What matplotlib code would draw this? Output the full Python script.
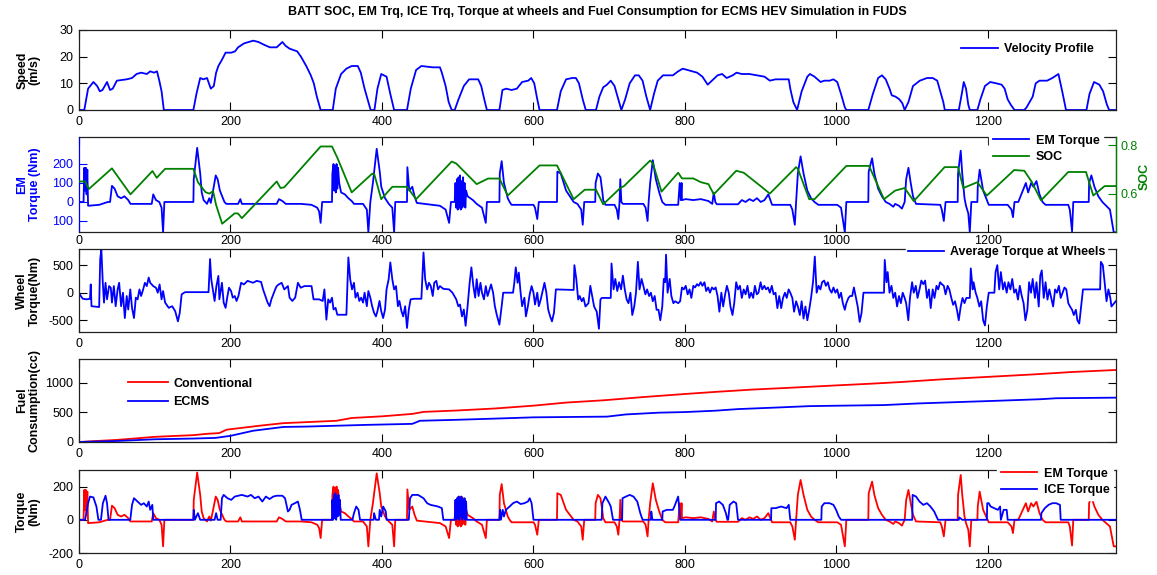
import matplotlib
matplotlib.use('Agg')
import matplotlib.pyplot as plt

plt.rcParams['font.family'] = ['Liberation Sans', 'DejaVu Sans']
plt.rcParams['font.size'] = 9
plt.rcParams['axes.unicode_minus'] = False

# ---------------- data (time s, value) ----------------
speed_pts = [(0,0),(7,0),(12,8),(19,10.5),(24,9),(27.5,7),(31,7.5),(37,10.5),(41,7.5),(44.5,8),(50,11),(63,11.5),(70,12),(76,13.5),(82,14),(89.5,13.5),(94,14.5),(99,14),(103,14.5),(106,11),(109,7),(112,0),(151,0),(155,6),(160,12),(164,11.5),(169,12),(174,8),(178,9),(181,14),(184,16.5),(189,19),(193.5,21.5),(201,21.5),(206,22),(210,23.5),(218,25),(230,26),(237,25.5),(244,24.5),(252,23.5),(261,23.5),(268.5,25.5),(273,24),(278,23),(288,22),(293,20),(300,16.5),(306,13),(310,10),(314,5),(319,0),(335,0),(339,8),(346,13.5),(353,15.5),(360,16.5),(368,16.5),(372,14),(377,8),(382,3),(385,0),(390,0),(394,8),(399,13.5),(406,12.5),(411,6),(416,0),(433,0),(438,8),(445,15),(452,16.5),(467,16),(476.5,16),(479,14),(484,9),(488,3),(492,0),(496,0),(501,4),(508,9),(515,11.5),(527,11.5),(531,9),(535,4),(538.5,0),(555,0),(559,7.5),(564,8),(571,7.5),(578,8),(585,10.5),(593,11),(597,12),(601,10),(605,4),(608,0),(631,0),(636,7),(643,11.5),(651,12),(656,12),(660,10),(665,4),(669,0),(682.5,0),(687,5),(692,8.5),(697,9.5),(702,11),(707,9),(712,4),(716,0),(721,4),(727,10),(734,13),(739,13),(744,11),(749,5),(754,0),(759,6),(764,11),(771,13),(784,13),(791,14.5),(797,15.5),(803.5,15),(816,14),(823,12.5),(830,9.5),(835.5,11),(843,13),(849,13.5),(855,12),(863,13),(868,14),(875,13.5),(885,13.5),(895,13),(905,12.5),(912,11),(919.5,11.5),(929,11.5),(937,11.5),(939,8),(943,3),(948,0),(954,7),(961.5,12.5),(965,13.5),(971,12.5),(979,10.5),(984,11),(991,11),(996,11.5),(1001,10.5),(1006,6),(1011,1),(1013,0),(1042,0),(1048,6),(1055,12),(1060,13),(1065,11.5),(1070,8),(1073,5.5),(1078,5),(1083,4),(1087,2.5),(1090,0),(1095,3),(1101,9),(1110,11),(1119.5,12),(1127,12),(1133,11),(1137,7),(1141,3),(1143,0),(1161.5,0),(1166,7),(1168,10.5),(1171,8),(1174,2),(1176,0),(1186,0),(1190,4),(1196,9),(1203,10.5),(1211,10),(1218,9.5),(1222,8),(1226,4),(1230,2),(1235,0),(1248,0),(1251,1),(1255,3),(1259,5),(1263,10),(1268,11),(1278,11),(1285,12),(1293,13.5),(1298,7),(1303,0),(1330,0),(1334,6),(1340,10.5),(1347,9.5),(1352,7),(1357,2),(1360,0),(1369,0)]

em_pts = [(0,0),(6,0),(7,180),(8,60),(9,180),(10,40),(11,170),(12,-20),(26.6,-15),(38,0),(41,0),(43.5,85),(47,70),(51,30),(55.6,20),(60,30),(65,10),(68,-10),(96,-10),(98,40),(101.6,10),(106,0),(109,-30),(111,-160),(112.7,0),(151,0),(151.5,120),(156,285),(160,150),(162,50),(164.5,10),(169,-10),(172,20),(174,-5),(176.6,50),(180.5,140),(183,120),(186,60),(190,20),(192,0),(194.5,-10),(210,-10),(213,15),(215,-10),(261,-10),(264,15),(268.5,5),(273,-10),(293,-10),(307,-15),(314.5,-30),(317,-50),(319,-110),(321,0),(334,0),(334.5,150),(336,200),(337,60),(338,190),(339,50),(340,200),(341,70),(342,180),(343.5,100),(346,50),(351,40),(355.6,20),(360,5),(363,-10),(375,-10),(380,-40),(382,-160),(384.6,0),(388,100),(393,280),(397,160),(399,80),(404,20),(409,-10),(413.6,-30),(416,-160),(417.5,0),(433,0),(433.5,183),(436,60),(440,80),(443,30),(446,-5),(476.5,-20),(484,-40),(488.6,-110),(491,0),(496,0),(497,100),(498,-30),(499,120),(500,-40),(501,130),(502,-30),(503,140),(504,-40),(505,110),(506,-30),(507,130),(508,-20),(509,100),(510,-30),(511,60),(513,30),(520,10),(525,-10),(532,-30),(537,-110),(538.5,0),(555,0),(555.5,150),(558,215),(561,100),(566,20),(568.5,0),(571,-15),(600,-15),(602,-30),(605,-90),(607,0),(631,0),(631.5,160),(636,150),(643,60),(653,0),(658,-10),(663,-40),(665,-120),(667,0),(681.5,0),(682,100),(685,150),(688.4,130),(691,50),(692,10),(695,-15),(707,-15),(710,-40),(712,-90),(713.6,0),(714.6,120),(716,0),(718,-10),(745,-10),(748,-30),(750.6,-100),(752,0),(754,100),(757.5,220),(761.5,120),(766,50),(770,0),(774,-15),(791,-15),(793,100),(794.5,10),(795.5,100),(796,10),(801,15),(811,10),(821,15),(831,5),(836,-10),(838,50),(840,0),(842,-12),(870,-12),(875,10),(880,0),(885,15),(890,5),(895,20),(900,0),(905,10),(910,40),(913.6,0),(915,-15),(939,-15),(941.7,-40),(945,-120),(946.7,0),(949,150),(952.6,240),(956.5,150),(961.5,60),(966.4,20),(971,0),(976,-15),(1001,-15),(1006,-30),(1011,-160),(1013,0),(1042,0),(1042.5,160),(1047,230),(1050,150),(1055,70),(1060,30),(1065,0),(1070,-10),(1075,-25),(1077.5,-10),(1082.5,-20),(1086.4,-35),(1090,0),(1092,120),(1095,180),(1098,100),(1101,30),(1105,-10),(1137,-15),(1139,-40),(1141.7,-100),(1144,0),(1160,0),(1160.5,150),(1164,270),(1166,150),(1169,20),(1171,-20),(1174,-60),(1176,-160),(1178,0),(1186,0),(1186.5,80),(1189,170),(1193.6,60),(1198.5,10),(1201,-15),(1226,-15),(1231,-40),(1233,-80),(1235,0),(1240,0),(1243,30),(1246,60),(1250,100),(1253,50),(1257,100),(1260,80),(1264,110),(1268,40),(1272,0),(1276,-15),(1306,-15),(1308,-40),(1311,-155),(1312.6,0),(1333,0),(1333.5,100),(1336.5,140),(1340.5,80),(1345.7,30),(1351,0),(1356,-20),(1361,-40),(1366,-160),(1369,-160)]

ice_pts = [(0,0),(8,0),(9.7,40),(12,100),(14.5,140),(19,135),(23,80),(25.6,0),(29,0),(31.5,100),(35,145),(37,100),(39,0),(67.7,0),(70,90),(72.6,130),(77.4,110),(82,90),(85.6,100),(89.5,80),(92,110),(94,60),(96.8,90),(98,0),(151,0),(151.5,60),(153,0),(157,40),(160,0),(179,0),(181,40),(183,0),(187,0),(188.7,130),(191,150),(196,130),(201,120),(205.6,140),(215,150),(222.5,140),(227,150),(232,130),(237,140),(242,110),(246.7,140),(251.6,125),(256.4,140),(261,145),(268.5,145),(272,130),(275.8,50),(278,60),(280.6,90),(285,100),(289,110),(291.7,60),(294,0),(334,0),(334.5,120),(335.5,0),(336.5,150),(337.5,10),(338.5,160),(339.5,0),(340.5,140),(341.5,20),(342.5,150),(343.5,30),(344.5,120),(345.5,0),(361,0),(363,40),(366,80),(369,60),(371,0),(389,0),(389.5,40),(392,0),(396,0),(397,60),(399,20),(401.5,80),(405,50),(406,0),(435.4,0),(437,130),(440,150),(447.5,150),(454.8,130),(459.6,100),(464,90),(469,85),(474,80),(479,70),(481,0),(496,0),(497,120),(498,0),(499,130),(500,10),(501,140),(502,0),(503,130),(504,20),(505,140),(506,0),(507,120),(508,10),(509,130),(510,0),(511,110),(512,0),(555,0),(556,60),(557,0),(559.4,60),(561,20),(563.6,60),(568.5,80),(573,100),(578,110),(583,95),(588,100),(592.6,110),(595,130),(597.5,100),(600,0),(690,0),(691,100),(695,140),(700,100),(702,80),(705,0),(717,0),(717.5,130),(722,140),(727,150),(732,140),(737,110),(741,40),(744,0),(755,0),(755.5,50),(757,0),(770,0),(770.5,50),(776,60),(784,60),(786,80),(791,140),(793.6,0),(840.5,0),(841,100),(845,110),(850,90),(854,40),(856,0),(857,0),(859,90),(864,110),(867.6,100),(870,0),(913.6,0),(914,70),(919.5,70),(927,80),(934,70),(937,90),(939,0),(980,0),(980.5,80),(984,100),(991,100),(996,90),(999.5,60),(1003,20),(1006,0),(1100,0),(1100.5,150),(1105,140),(1109.6,110),(1114.6,90),(1119.5,100),(1124,80),(1129,50),(1133,10),(1134,0),(1161.5,0),(1162,15),(1166,0),(1198.5,0),(1199,100),(1201,100),(1203.5,80),(1208.4,70),(1213,60),(1216,80),(1217,0),(1220.7,60),(1224.7,60),(1226,0),(1270,0),(1270.5,40),(1275,70),(1280,90),(1285,100),(1290,100),(1295,90),(1296,0),(1369,0)]

soc_pts = [(0,0.650),(8,0.650),(13,0.619),(43.5,0.704),(68,0.597),(97,0.693),(102.6,0.665),(113.7,0.702),(151,0.702),(157,0.647),(167,0.606),(172,0.600),(177,0.610),(181,0.553),(189,0.476),(205.6,0.519),(210,0.518),(215,0.499),(261,0.650),(266,0.623),(271,0.626),(319,0.794),(334,0.794),(341,0.748),(360,0.605),(387,0.682),(390,0.678),(399,0.577),(413.6,0.628),(433,0.628),(445,0.577),(492,0.732),(498,0.724),(525,0.639),(540,0.662),(555,0.662),(566,0.592),(608,0.716),(631,0.716),(636,0.685),(653,0.577),(667.7,0.616),(682.5,0.616),(692,0.556),(714.6,0.623),(719.5,0.631),(754,0.736),(757.5,0.725),(769,0.608),(791,0.686),(796,0.6625),(811,0.6625),(821,0.647),(831,0.639),(838,0.597),(867.6,0.694),(877.5,0.686),(899.8,0.631),(912,0.600),(946.7,0.709),(949,0.702),(964,0.577),(971,0.577),(1013,0.714),(1043,0.714),(1062.7,0.577),(1077.5,0.6125),(1090,0.623),(1102,0.569),(1142.7,0.709),(1160.5,0.709),(1167.4,0.623),(1186,0.647),(1198.5,0.592),(1234.6,0.697),(1248,0.694),(1258,0.647),(1270,0.572),(1306,0.689),(1329.4,0.689),(1339,0.592),(1354,0.631),(1369,0.631)]

wheel_pts = [(0,0),(2.4,-60),(5,-110),(10,-120),(14.5,-110),(15.5,150),(16.5,-245),(26.6,-260),(28,610),(29.5,790),(31.4,180),(33,-180),(35,180),(37,-120),(39.7,120),(42,90),(43.5,-180),(46,120),(48.4,-245),(51,60),(53,180),(55.6,-245),(58,0),(60.5,-460),(63,-60),(65,-305),(67.7,60),(70,-275),(72.6,-460),(75,-90),(77.4,-120),(79.8,60),(82,-60),(84.7,60),(87,180),(89.5,120),(92,275),(94,180),(98,120),(101.6,90),(104,0),(106.4,150),(109,-120),(111,30),(113.7,-180),(118.5,-275),(123,-245),(127,-335),(130.6,-520),(133,-365),(135.5,-30),(140,10),(171,10),(172,305),(173,610),(174.6,245),(176.6,60),(179,-150),(181.4,120),(184,305),(185.3,-120),(188.7,180),(191,-180),(193.5,-275),(196,-60),(198,90),(200.8,30),(203,-90),(205.6,-60),(208,-150),(210.5,-60),(214,180),(217.7,150),(222.5,215),(229.8,180),(234.6,215),(240.4,195),(243,60),(246.7,-90),(249,-180),(251.6,-245),(254,-120),(259,60),(261,120),(263.7,150),(267.5,180),(271,60),(275.8,120),(278,-90),(281.6,-150),(285.4,-90),(289,180),(292.7,90),(297.5,120),(307,120),(309.6,-120),(317,-120),(321.7,-150),(324,60),(326.6,-490),(329,-120),(331.4,-180),(334,-90),(336,-305),(338.7,-275),(341,-400),(353,-400),(354.6,245),(355.6,640),(358,245),(360.4,60),(363,180),(365,-90),(367.7,0),(370,-150),(372.5,-90),(375,-180),(377,0),(380,-245),(382,30),(384.6,-90),(387,-245),(389.5,-365),(392,-430),(394,-335),(396.7,-150),(399,-335),(401.5,-460),(404,-305),(406,60),(408.8,245),(411,550),(413.6,245),(416,60),(418.5,120),(421,-245),(423,-150),(425.7,-335),(428,-430),(430.6,-245),(433,-640),(435.4,-305),(437.8,-120),(442.7,-110),(452,-110),(454.8,730),(457,245),(459.6,60),(462,180),(464.4,120),(467,-60),(469,180),(471.7,215),(474,60),(476.5,120),(481,70),(488.6,60),(493,0),(498,-120),(500.7,-245),(503,-215),(505.6,-430),(508,-305),(510.4,-600),(513,-245),(515.7,180),(518,460),(520.6,120),(523,-90),(525,245),(527.5,-60),(530,180),(532,0),(534.6,-120),(537,120),(539.4,-60),(544,150),(546.7,0),(549,-245),(551.5,-400),(555,-580),(558,-245),(560,0),(573,0),(574.7,180),(576.6,460),(579,180),(580.6,365),(583,0),(585,-245),(588,-90),(590,-430),(592.6,-245),(595,-30),(597.5,120),(600,0),(602,-215),(605,0),(607,-245),(609.6,-120),(612,30),(614.5,180),(617,0),(619.4,-305),(622,-430),(624.4,-520),(627,-365),(629.6,60),(653,50),(654,500),(656.5,250),(659,-125),(661,-60),(663.7,-155),(666,-95),(668.6,-250),(672.6,-190),(675,125),(677.5,-60),(680,-250),(683.5,-345),(686.4,-655),(688.4,-125),(690,-95),(702,-95),(703,530),(705.7,60),(708,250),(710.6,30),(713,190),(715.6,60),(718,310),(720.5,60),(723,-125),(725.4,-190),(728,0),(730.4,-405),(733,-250),(735.3,0),(737.8,560),(740,60),(742.7,250),(745,125),(747.7,-30),(750,60),(752.6,-60),(755,0),(757.5,-155),(760,-60),(762.5,-310),(765,-310),(767.4,-500),(770,-250),(772,250),(773.8,190),(775,690),(777,0),(779.8,250),(782,-60),(784.7,-190),(787,-155),(791,-190),(793.6,-155),(796,95),(798.5,60),(801,125),(803.5,-30),(806,60),(808.4,-95),(811,125),(813.3,95),(815.8,155),(818,125),(820.7,190),(823,125),(825.7,190),(828,30),(830.6,95),(833,0),(835.6,95),(838,60),(840.5,95),(843,-60),(845.4,-345),(848,0),(850.4,-250),(853,-30),(855.3,125),(857.8,0),(860,-250),(862.7,-405),(865,-190),(867.6,190),(870,60),(872.6,125),(875,-95),(877.5,60),(880,-30),(882.5,125),(885,-95),(887.4,0),(890,-95),(892.3,125),(894.8,-30),(897,0),(899.8,190),(902,60),(904.7,125),(907,60),(909.6,95),(912,0),(914.6,125),(917,-30),(919.5,0),(922,-280),(924.4,-60),(927,-280),(929.4,-95),(932,0),(934.3,-95),(936.8,60),(939,0),(941.7,-95),(944,-345),(946.7,-155),(949,-250),(951.6,-405),(954,-155),(956.5,-470),(959,-250),(961.5,-500),(964,-310),(966.4,-95),(969,190),(971.4,655),(973.8,0),(976.3,125),(978.8,60),(981,190),(983.7,220),(986,125),(988.6,190),(991,60),(993.6,0),(996,95),(998.5,0),(1001,60),(1003.5,-95),(1006,0),(1008.4,-190),(1011,-310),(1013,-190),(1015.8,-95),(1018,-60),(1020.7,-60),(1023,95),(1025.7,-95),(1028,-250),(1030.6,-530),(1033,-375),(1035.6,0),(1062.7,0),(1063.7,595),(1066,190),(1067.6,375),(1070,0),(1072.6,125),(1075,-95),(1077.5,0),(1080,-250),(1082.5,-60),(1085,-190),(1087.4,0),(1090,-95),(1092,-190),(1094.8,-500),(1097,-95),(1099.8,190),(1102,0),(1104.7,125),(1107,-95),(1109.6,60),(1112,220),(1114.6,155),(1117,220),(1119.5,-95),(1122,60),(1124.4,-280),(1127,60),(1129.4,-95),(1132,125),(1134.3,60),(1136.8,190),(1139,155),(1141.7,125),(1144,-30),(1146.7,125),(1149,60),(1151.6,-95),(1154,-220),(1156.5,-155),(1159,-310),(1161.4,-500),(1164,-250),(1166.4,-95),(1169,-190),(1171.4,-95),(1176,-95),(1177.3,440),(1179.8,60),(1181,190),(1183.7,0),(1186,-95),(1188.6,-250),(1191,-155),(1193.6,-500),(1196,-595),(1198.5,-250),(1201,0),(1208.4,0),(1210,375),(1212.3,500),(1214.8,60),(1217,375),(1219.8,60),(1222,190),(1224.7,0),(1227,190),(1229.6,60),(1232,250),(1234.6,0),(1237,60),(1239.6,-125),(1242,125),(1244.6,-60),(1247,-190),(1249.4,-500),(1252,-310),(1254.3,190),(1256.8,0),(1259,250),(1262,-95),(1264,190),(1267,-250),(1269,310),(1271,405),(1273.6,-95),(1276,190),(1278.5,-125),(1281,60),(1283.5,-95),(1286,-250),(1288.6,60),(1291,0),(1293.6,125),(1296,-95),(1298.5,0),(1301,95),(1303.4,60),(1306,-190),(1308.3,-250),(1311,-310),(1313.3,-405),(1316,-310),(1318,-500),(1320.5,-560),(1323,-250),(1325.4,60),(1348,60),(1349,560),(1351.6,500),(1354,190),(1356.5,-155),(1359,60),(1361.5,-95),(1363,-250),(1369,-150)]

fuel_conv_pts = [(0,0),(20,15),(50,35),(100,87),(150,115),(170,139),(185,150),(195,208),(210,231),(240,277),(270,318),(300,335),(340,358),(360,405),(400,433),(440,474),(455,508),(500,532),(550,566),(600,613),(643,665),(692,703),(742,755),(800,810),(840,845),(890,885),(939,915),(1000,955),(1048,985),(1087,1013),(1137,1055),(1202,1100),(1260,1140),(1310,1180),(1369,1215)]
fuel_ecms_pts = [(0,0),(50,17),(100,46),(150,58),(180,69),(200,104),(230,190),(270,254),(300,260),(380,289),(440,306),(450,358),(500,375),(560,399),(600,416),(697,428),(722,465),(766,495),(800,505),(840,528),(870,555),(924,583),(964,605),(1000,612),(1063,623),(1107,650),(1171,678),(1211,695),(1270,722),(1290,738),(1369,748)]

x_ticks = [0, 200, 400, 600, 800, 1000, 1200]
title_text = 'BATT SOC, EM Trq, ICE Trq, Torque at wheels and Fuel Consumption for ECMS HEV Simulation in FUDS'


def xy(pts):
    return [p[0] for p in pts], [p[1] for p in pts]


W, H = 1157, 575
fig = plt.figure(figsize=(W / 100, H / 100), dpi=100)
LEFT, RIGHT = 79, 1116
GREEN = (0, 0.5, 0)
LW = 1.3


def rect(top, bottom):
    return [LEFT / W, 1 - bottom / H, (RIGHT - LEFT) / W, (bottom - top) / H]


def fp(x, y):
    return (x / W, 1 - y / H)


def style(ax, xpad=4):
    ax.set_xlim(0, 1369)
    ax.set_xticks(x_ticks)
    ax.tick_params(direction='in', top=True, right=True, length=6, width=0.8,
                   labelsize=9, pad=4)
    ax.tick_params(axis='x', pad=xpad)
    for s in ax.spines.values():
        s.set_linewidth(0.9)
        s.set_color('#202020')


def ylab(ax, text, color='black'):
    ax.set_ylabel(text, fontweight='bold', fontsize=9, color=color, linespacing=1.05)
    ax.yaxis.set_label_coords(-0.037, 0.5)


legprop = {'weight': 'bold', 'size': 9}

# ---------------- panel 1: speed ----------------
ax1 = fig.add_axes(rect(30, 110))
t, v = xy(speed_pts)
ax1.plot(t, v, color='blue', lw=LW, label='Velocity Profile')
style(ax1)
ax1.set_ylim(0, 30)
ax1.set_yticks([0, 10, 20, 30])
ylab(ax1, 'Speed\n(m/s)')
ax1.legend(loc='center left', bbox_to_anchor=fp(955, 49), bbox_transform=fig.transFigure,
           frameon=False, borderpad=0, handlelength=2.9, handletextpad=0.5, prop=legprop)

# ---------------- panel 2: EM torque + SOC ----------------
ax2 = fig.add_axes(rect(137, 232))
t, v = xy(em_pts)
l_em, = ax2.plot(t, v, color='blue', lw=LW, label='EM Torque')
style(ax2, xpad=2)
ax2.set_ylim(-158, 342)
ax2.set_yticks([-100, 0, 100, 200])
ax2.set_yticklabels(['100', '0', '100', '200'])
ax2.tick_params(axis='y', colors='blue')
ax2.spines['left'].set_color('blue')
ylab(ax2, 'EM\nTorque (Nm)', color='blue')

ax2r = ax2.twinx()
t, v = xy(soc_pts)
l_soc, = ax2r.plot(t, v, color=GREEN, lw=LW, label='SOC')
ax2r.set_xlim(0, 1369)
ax2r.set_ylim(0.442, 0.833)
ax2r.set_yticks([0.6, 0.8])
ax2r.set_yticklabels(['0.6', '0.8'])
ax2r.tick_params(axis='y', direction='in', length=6, width=0.8, colors=GREEN, labelsize=9, pad=3)
for k in ['top', 'bottom', 'left']:
    ax2r.spines[k].set_visible(False)
ax2r.spines['right'].set_color(GREEN)
ax2r.spines['right'].set_linewidth(0.9)
ax2r.set_ylabel('SOC', fontweight='bold', fontsize=9, color=GREEN)
ax2r.yaxis.set_label_coords(1.022, 0.58)
ax2r.legend(handles=[l_em, l_soc], loc='center left', bbox_to_anchor=fp(983, 149),
            bbox_transform=fig.transFigure, frameon=True, facecolor='white', edgecolor='white',
            framealpha=1, fancybox=False, borderpad=0.3, labelspacing=0.35,
            handlelength=2.9, handletextpad=0.5, prop=legprop)

# ---------------- panel 3: wheel torque ----------------
ax3 = fig.add_axes(rect(249, 332))
t, v = xy(wheel_pts)
ax3.plot(t, v, color='blue', lw=LW, label='Average Torque at Wheels')
style(ax3)
ax3.set_ylim(-713, 793)
ax3.set_yticks([-500, 0, 500])
ylab(ax3, 'Wheel\nTorque(Nm)')
ax3.legend(loc='center left', bbox_to_anchor=fp(900, 252), bbox_transform=fig.transFigure,
           frameon=True, facecolor='white', edgecolor='white', framealpha=1, fancybox=False,
           borderpad=0.1, handlelength=2.9, handletextpad=0.5, prop=legprop)

# keep panel-2 tick labels above the panel-3 legend box
ax3.set_zorder(1)
ax2.set_zorder(2)
ax2r.set_zorder(3)

# ---------------- panel 4: fuel ----------------
ax4 = fig.add_axes(rect(359, 442))
t, v = xy(fuel_conv_pts)
ax4.plot(t, v, color='red', lw=LW, label='Conventional')
t, v = xy(fuel_ecms_pts)
ax4.plot(t, v, color='blue', lw=LW, label='ECMS')
style(ax4)
ax4.set_ylim(0, 1400)
ax4.set_yticks([0, 500, 1000])
ylab(ax4, 'Fuel\nConsumption(cc)')
ax4.legend(loc='center left', bbox_to_anchor=fp(122, 393), bbox_transform=fig.transFigure,
           frameon=False, borderpad=0, labelspacing=0.55, handlelength=3.2,
           handletextpad=0.4, prop=legprop)

# ---------------- panel 5: EM / ICE torque ----------------
ax5 = fig.add_axes(rect(470, 553))
t, v = xy(em_pts)
ax5.plot(t, v, color='red', lw=LW, label='EM Torque')
t, v = xy(ice_pts)
ax5.plot(t, v, color='blue', lw=LW, label='ICE Torque')
style(ax5)
ax5.set_ylim(-200, 300)
ax5.set_yticks([-200, 0, 200])
ylab(ax5, 'Torque\n(Nm)')
ax5.legend(loc='center left', bbox_to_anchor=fp(991, 482), bbox_transform=fig.transFigure,
           frameon=True, facecolor='white', edgecolor='white', framealpha=1, fancybox=False,
           borderpad=0.3, labelspacing=0.35, handlelength=2.9, handletextpad=0.5, prop=legprop)

fig.text(597.5 / W, 1 - 12 / H, title_text, ha='center', va='center',
         fontweight='bold', fontsize=9)

fig.savefig('out.png', dpi=100)
